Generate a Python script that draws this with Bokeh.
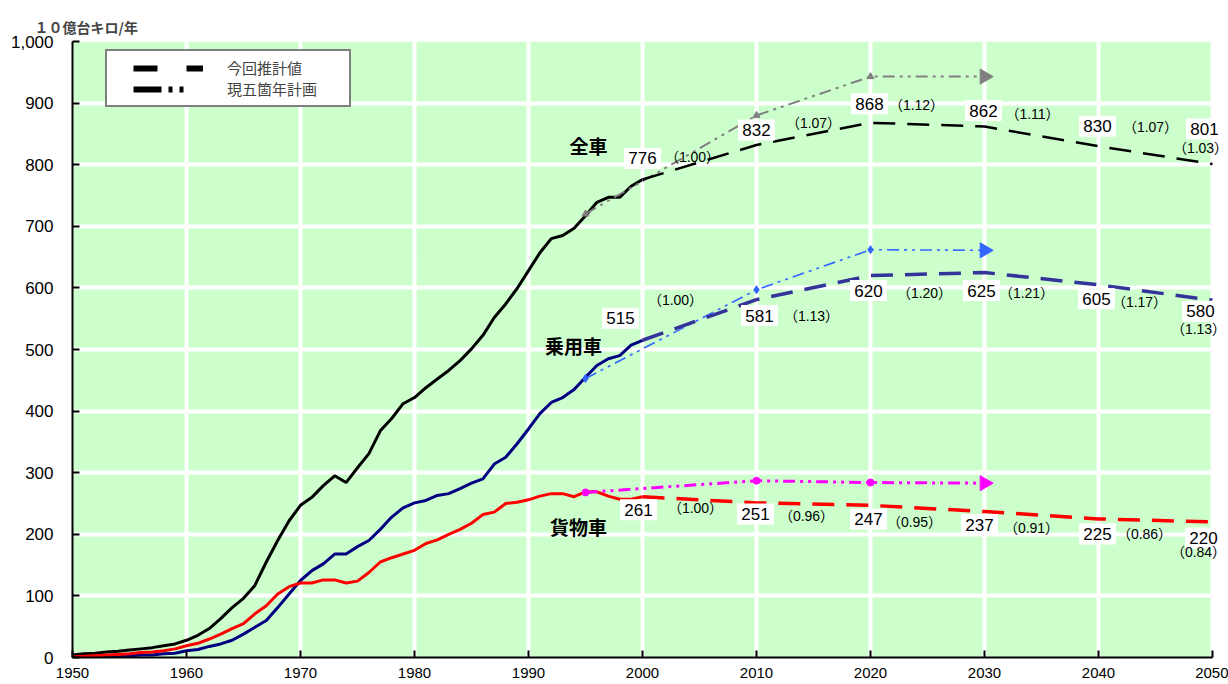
import numpy as np
from bokeh.plotting import figure
from bokeh.models import (ColumnDataSource, Legend, LegendItem,
                          NumeralTickFormatter, FixedTicker, Range1d)
from bokeh.core.properties import value
from bokeh.embed import file_html
from bokeh.resources import INLINE

# ---------------- data ----------------
hist_years = list(range(1950, 2001))
total_hist = [4, 6, 7, 9, 10, 12, 14, 16, 19, 22, 28, 36, 47, 63, 81, 96, 117, 155, 190, 222,
              247, 260, 279, 295, 284, 308, 331, 368, 388, 412, 422, 438, 452, 466, 482, 501,
              523, 552, 574, 599, 628, 657, 680, 685, 697, 717, 739, 747, 747, 765, 776]
car_hist = [1, 1, 1, 2, 2, 3, 4, 4, 6, 7, 11, 13, 18, 22, 28, 38, 49, 60, 81, 103,
            125, 141, 152, 168, 168, 180, 190, 208, 228, 243, 251, 255, 263, 266, 274, 283,
            290, 314, 325, 347, 371, 396, 414, 422, 435, 455, 474, 485, 490, 507, 515]
truck_hist = [1, 2, 3, 4, 5, 6, 8, 9, 11, 14, 19, 23, 30, 38, 47, 55, 71, 84, 103, 115,
              121, 121, 126, 126, 121, 124, 138, 155, 162, 168, 174, 185, 191, 200, 208, 218,
              232, 236, 250, 252, 256, 262, 266, 266, 261, 269, 269, 262, 257, 257, 261]

proj_years = [2000, 2010, 2020, 2030, 2040, 2050]
total_proj = [776, 832, 868, 862, 830, 801]
car_proj = [515, 581, 620, 625, 605, 580]
truck_proj = [261, 251, 247, 237, 225, 220]
total_ratio = ["1.00", "1.07", "1.12", "1.11", "1.07", "1.03"]
car_ratio = ["1.00", "1.13", "1.20", "1.21", "1.17", "1.13"]
truck_ratio = ["1.00", "0.96", "0.95", "0.91", "0.86", "0.84"]

plan_years = [1995, 2010, 2020, 2030]
total_plan = [720, 880, 943, 943]
car_plan = [453, 597, 662, 661]
truck_plan = [268, 287, 284, 283]

series_names = ["全車", "乗用車", "貨物車"]
legend_labels = ["今回推計値", "現五箇年計画"]
y_title = "１０億台キロ/年"
x_ticks = list(range(1950, 2051, 10))
y_ticks = list(range(0, 1001, 100))

# ---------------- label layout (pixel offsets, up = positive) ----------------
total_val_off = [(0, 21), (0, 15), (-1, 19), (-1, 16), (-1, 20), (-8, 35)]
total_rat_off = [(50, 22), (57, 22), (46, 18), (48, 13), (52, 19), (-12, 16)]
car_val_off = [(-22, 22), (3, -16), (-2, -15), (-3, -18), (-2, -14), (-12, -11)]
car_rat_off = [(33, 40), (55, -16), (54, -17), (42, -20), (41, -17), (-14, -29)]
truck_val_off = [(-4, -13), (-1, -11), (-2, -14), (-5, -13), (-1, -15), (-9, -16)]
truck_rat_off = [(53, -11), (50, -13), (44, -17), (47, -16), (46, -15), (-14, -30)]
name_off = [(-54, 34), (-69, -5), (-64, -30)]
BOX_W, BOX_H = 37, 21

JP = "Noto Sans CJK JP"
NUM = "Liberation Sans"
GREEN = "#CCFFCC"

FRAME_L, FRAME_R, FRAME_T, FRAME_B = 72, 1226, 41, 657
x_end = x_ticks[-1] + 14 / 11.4   # a little room right of 2050 for the end labels
SX = (FRAME_R - FRAME_L) / (x_end - x_ticks[0])       # px per year
SY = (FRAME_B - FRAME_T) / (y_ticks[-1] - y_ticks[0])  # px per unit

p = figure(width=1228, height=684, x_range=Range1d(x_ticks[0], x_end),
           y_range=Range1d(y_ticks[0], y_ticks[-1]),
           output_backend="svg", toolbar_location=None,
           min_border_left=FRAME_L, min_border_right=1228 - FRAME_R,
           min_border_top=FRAME_T, min_border_bottom=684 - FRAME_B,
           background_fill_color="white", border_fill_color="white", outline_line_color=None)

# green plot area (1950-2050)
p.quad(left=[x_ticks[0]], right=[x_ticks[-1]], bottom=[y_ticks[0]], top=[y_ticks[-1]],
       fill_color=GREEN, line_color=None, level="image")

p.title.text = y_title
p.title.text_font = JP
p.title.text_font_size = "14px"
p.title.text_font_style = "bold"
p.title.align = "left"
p.title.offset = -38
p.title.standoff = 10

for ax in (p.xaxis[0], p.yaxis[0]):
    ax.axis_line_color = "black"
    ax.axis_line_width = 2
    ax.major_tick_line_color = "black"
    ax.major_tick_line_width = 2
    ax.major_tick_in = 7
    ax.major_tick_out = 0
    ax.minor_tick_line_color = None
    ax.major_label_text_font = NUM
    ax.major_label_text_color = "black"
p.xaxis.bounds = (x_ticks[0], x_ticks[-1])
p.xaxis.ticker = FixedTicker(ticks=x_ticks)
p.yaxis.ticker = FixedTicker(ticks=y_ticks)
p.yaxis.formatter = NumeralTickFormatter(format="0,0")
p.yaxis.major_label_text_font_size = "17px"
p.yaxis.major_label_standoff = 19
p.xaxis.major_label_text_font_size = "15px"
p.xaxis.major_label_standoff = 10

p.xgrid.grid_line_color = "white"
p.xgrid.grid_line_width = 4
p.ygrid.grid_line_color = "white"
p.ygrid.grid_line_width = 4

# historical lines
p.line(hist_years, total_hist, color="black", line_width=3)
p.line(hist_years, car_hist, color="#000080", line_width=3)
p.line(hist_years, truck_hist, color="red", line_width=3)

# plan lines (dash-dot-dot)
plan_dash = "12 5 3 5 3 5"
p.line(plan_years, total_plan, color="#808080", line_width=2, line_dash=plan_dash)
p.line(plan_years, car_plan, color="#3366FF", line_width=1.6, line_dash=plan_dash)
p.line(plan_years, truck_plan, color="#FF00FF", line_width=3, line_dash=plan_dash)
p.scatter(plan_years[:-1], total_plan[:-1], marker="triangle", size=7, color="#808080")
p.scatter(plan_years[:-1], car_plan[:-1], marker="diamond", size=8, color="#3366FF")
p.scatter(plan_years[:-1], truck_plan[:-1], marker="circle", size=7, color="#FF00FF")
for yy, cc in ((total_plan, "#808080"), (car_plan, "#3366FF"), (truck_plan, "#FF00FF")):
    p.scatter(plan_years[-1:], yy[-1:], marker="triangle", angle=-np.pi / 2, size=15, color=cc)

# projection lines
p.line(proj_years, total_proj, color="black", line_width=2.5, line_dash="22 12")
p.line(proj_years, car_proj, color="#333399", line_width=3.5, line_dash="22 12")
p.line(proj_years, truck_proj, color="red", line_width=3.5, line_dash="22 12")


# value & ratio labels (Text glyph: screen y offset is downward, so negate)
def add_labels(vals, ratios, voff, roff):
    # white boxes behind the value labels
    cx = [yr + o[0] / SX for yr, o in zip(proj_years, voff)]
    cy = [v + o[1] / SY for v, o in zip(vals, voff)]
    p.quad(left=[c - BOX_W / 2 / SX for c in cx], right=[c + BOX_W / 2 / SX for c in cx],
           bottom=[c - BOX_H / 2 / SY for c in cy], top=[c + BOX_H / 2 / SY for c in cy],
           fill_color="white", fill_alpha=1.0, line_color=None)
    src_v = ColumnDataSource(dict(x=proj_years, y=vals, t=[str(v) for v in vals],
                                  dx=[o[0] for o in voff], dy=[-o[1] for o in voff]))
    p.text(x="x", y="y", text="t", source=src_v, x_offset="dx", y_offset="dy",
           text_align="center", text_baseline="middle",
           text_font=value(NUM), text_font_size="17px", text_color="black")
    src_r = ColumnDataSource(dict(x=proj_years, y=vals, t=["（" + r + "）" for r in ratios],
                                  dx=[o[0] for o in roff], dy=[-o[1] for o in roff]))
    p.text(x="x", y="y", text="t", source=src_r, x_offset="dx", y_offset="dy",
           text_align="center", text_baseline="middle",
           text_font=value(NUM + ", " + JP), text_font_size="14px", text_color="black")


add_labels(total_proj, total_ratio, total_val_off, total_rat_off)
add_labels(car_proj, car_ratio, car_val_off, car_rat_off)
add_labels(truck_proj, truck_ratio, truck_val_off, truck_rat_off)

# series names anchored at the last historical values
name_src = ColumnDataSource(dict(x=[hist_years[-1]] * 3,
                                 y=[total_hist[-1], car_hist[-1], truck_hist[-1]],
                                 t=series_names,
                                 dx=[o[0] for o in name_off], dy=[-o[1] for o in name_off]))
p.text(x="x", y="y", text="t", source=name_src, x_offset="dx", y_offset="dy",
       text_align="center", text_baseline="middle",
       text_font=value(JP), text_font_size="19px", text_font_style="bold", text_color="black")

# legend (black sample lines; one-point lines draw nothing in the plot)
leg1 = p.line(x=hist_years[:1], y=total_hist[:1], color="black", line_width=6,
              line_dash="0 20 24 9")
leg2 = p.line(x=hist_years[:1], y=total_hist[:1], color="black", line_width=6,
              line_dash="0 20 28 7 4 7 4 7")
legend = Legend(items=[LegendItem(label=legend_labels[0], renderers=[leg1]),
                       LegendItem(label=legend_labels[1], renderers=[leg2])],
                location=(33, 550), orientation="vertical")
legend.label_text_font = JP
legend.label_text_font_size = "15px"
legend.glyph_width = 90
legend.glyph_height = 18
legend.label_height = 18
legend.label_standoff = 24
legend.label_width = 116
legend.spacing = 0
legend.padding = 6
legend.margin = 0
legend.border_line_color = "black"
legend.border_line_width = 2
legend.background_fill_alpha = 1.0
p.add_layout(legend)

open("out.html", "w").write(file_html(p, INLINE))
